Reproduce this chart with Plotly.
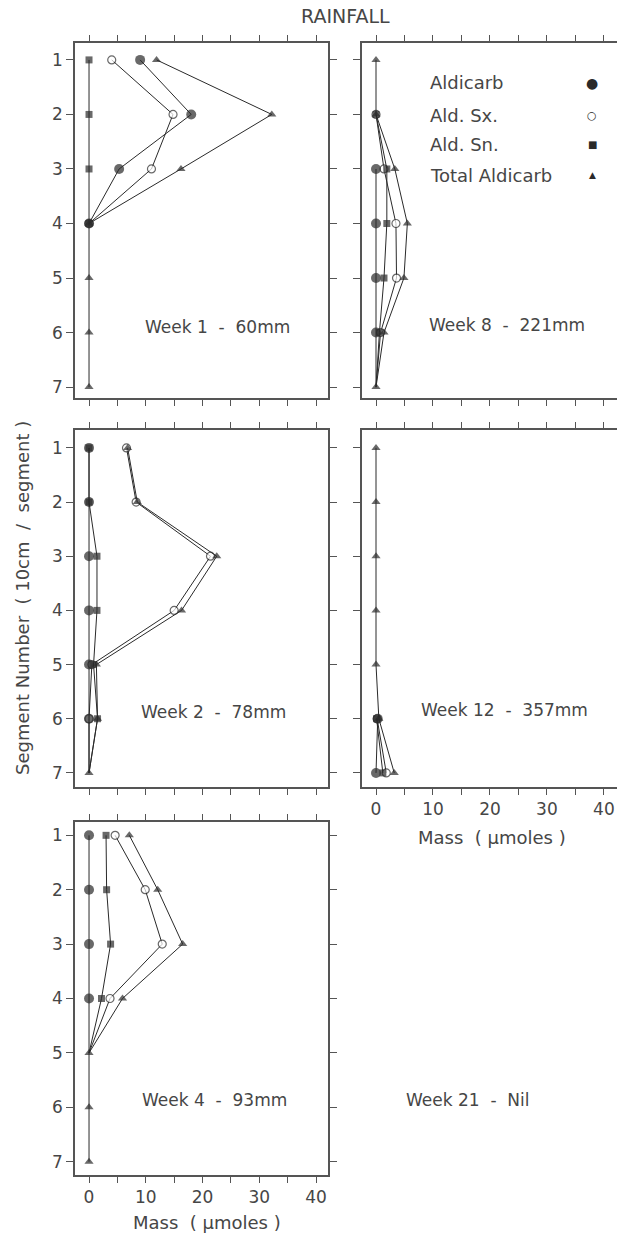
import plotly.graph_objects as go

W, H = 617, 1238

# ---------------- data ----------------
segments = [1, 2, 3, 4, 5, 6, 7]
series_names = ["Aldicarb", "Ald. Sx.", "Ald. Sn.", "Total Aldicarb"]
x_tick_values = [0, 5, 10, 15, 20, 25, 30, 35, 40]
x_tick_labels = ["0", "", "10", "", "20", "", "30", "", "40"]
y_tick_labels = ["1", "2", "3", "4", "5", "6", "7"]

# Week 1 - 60mm
w1_aldicarb = [9.0, 18.0, 5.3, 0.0, None, None, None]
w1_sx = [4.0, 14.8, 11.0, 0.0, None, None, None]
w1_sn = [0.0, 0.0, 0.0, 0.0, None, None, None]
w1_total = [11.9, 32.2, 16.2, 0.0, 0.0, 0.0, 0.0]

# Week 8 - 221mm
w8_aldicarb = [None, None, 0.0, 0.0, 0.0, 0.0, 0.0]
w8_sx = [None, 0.0, 1.4, 3.5, 3.6, 0.8, 0.0]
w8_sn = [None, 0.0, 1.9, 1.9, 1.4, 0.6, 0.0]
w8_total = [0.0, 0.0, 3.3, 5.5, 4.9, 1.4, 0.0]

# Week 2 - 78mm
w2_aldicarb = [0.0, 0.0, 0.0, 0.0, 0.0, 0.0, 0.0]
w2_sx = [6.6, 8.3, 21.4, 15.0, 0.5, 0.0, 0.0]
w2_sn = [0.0, 0.0, 1.4, 1.4, 0.8, 1.5, 0.0]
w2_total = [6.8, 8.5, 22.5, 16.3, 1.3, 1.5, 0.0]

# Week 12 - 357mm
w12_aldicarb = [None, None, None, None, None, 0.3, 0.0]
w12_sx = [None, None, None, None, None, 0.2, 1.8]
w12_sn = [None, None, None, None, None, 0.1, 1.2]
w12_total = [0.0, 0.0, 0.0, 0.0, 0.0, 0.5, 3.2]

# Week 4 - 93mm
w4_aldicarb = [0.0, 0.0, 0.0, 0.0, 0.0, None, None]
w4_sx = [4.6, 9.9, 12.9, 3.7, 0.0, None, None]
w4_sn = [3.0, 3.1, 3.8, 2.2, 0.0, None, None]
w4_total = [7.1, 12.1, 16.5, 5.9, 0.0, 0.0, 0.0]

# ---------------- layout helpers ----------------
def xdom(l, r):
    return [l / W, min(r / W, 1.0)]

def ydom(t, b):
    return [1 - b / H, 1 - t / H]

COLS = {"L": (75, 328), "R": (362, 617)}
ROWS = {1: (43, 398), 2: (430, 787), 3: (822, 1175)}
XRANGE = {"L": [-2.47, 42.1], "R": [-2.46, 42.3]}
YRANGE = {1: [7.2, 0.69], 2: [7.26, 0.67], 3: [7.245, 0.755]}

INK = "#2a2a2a"
TXT = "#464646"
FONT = "DejaVu Sans"
NB = "\u00a0"

panels = [
    dict(n=1, col="L", row=1, label=f"Week 1 {NB}-{NB} 60mm", tail=None,
         data={"Total Aldicarb": w1_total, "Ald. Sx.": w1_sx, "Ald. Sn.": w1_sn, "Aldicarb": w1_aldicarb},
         xlabels=False),
    dict(n=2, col="R", row=1, label=f"Week 8 {NB}-{NB} 221mm", tail=7,
         data={"Total Aldicarb": w8_total, "Ald. Sx.": w8_sx, "Ald. Sn.": w8_sn, "Aldicarb": w8_aldicarb},
         xlabels=False),
    dict(n=3, col="L", row=2, label=f"Week 2 {NB}-{NB} 78mm", tail=7,
         data={"Total Aldicarb": w2_total, "Ald. Sx.": w2_sx, "Ald. Sn.": w2_sn, "Aldicarb": w2_aldicarb},
         xlabels=False),
    dict(n=4, col="R", row=2, label=f"Week 12 {NB}-{NB} 357mm", tail=None,
         data={"Total Aldicarb": w12_total, "Ald. Sx.": w12_sx, "Ald. Sn.": w12_sn, "Aldicarb": w12_aldicarb},
         xlabels=True),
    dict(n=5, col="L", row=3, label=f"Week 4 {NB}-{NB} 93mm", tail=5,
         data={"Total Aldicarb": w4_total, "Ald. Sx.": w4_sx, "Ald. Sn.": w4_sn, "Aldicarb": w4_aldicarb},
         xlabels=True),
]
label_pos = {1: (217, 327), 2: (507, 325), 3: (213, 712), 4: (504, 710), 5: (214, 1100)}

styles = {
    "Total Aldicarb": dict(symbol="triangle-up", size=8, color=INK, line=dict(width=0)),
    "Ald. Sx.": dict(symbol="circle", size=8, color="white", line=dict(width=1.2, color=INK)),
    "Ald. Sn.": dict(symbol="square", size=7, color=INK, line=dict(width=0)),
    "Aldicarb": dict(symbol="circle", size=10, color=INK, line=dict(width=0)),
}
draw_order = ["Ald. Sx.", "Total Aldicarb", "Ald. Sn.", "Aldicarb"]

fig = go.Figure()
layout = {}
annotations = []


def note(text, px, py, size=17, color=TXT, xanchor="center", angle=0):
    return dict(text=text, x=px / W, y=1 - py / H, xref="paper", yref="paper",
                xanchor=xanchor, yanchor="middle", showarrow=False, textangle=angle,
                font=dict(family=FONT, size=size, color=color))


for p in panels:
    n = p["n"]
    xa = "x" if n == 1 else f"x{n}"
    ya = "y" if n == 1 else f"y{n}"
    for name in draw_order:
        vals = p["data"][name]
        st = styles[name]
        sizes = [0 if (p["tail"] is not None and s == p["tail"] and name != "Total Aldicarb") else st["size"]
                 for s in segments]
        fig.add_trace(go.Scatter(
            x=vals, y=segments, mode="lines+markers", name=name, showlegend=False,
            xaxis=xa, yaxis=ya,
            line=dict(color=INK, width=1),
            marker=dict(symbol=st["symbol"], size=sizes, color=st["color"], line=st["line"]),
        ))
    common = dict(showline=True, linecolor="#555", linewidth=1.5, ticks="outside", ticklen=6,
                  tickwidth=1.2, tickcolor="#555", showgrid=False, zeroline=False,
                  automargin=False, fixedrange=True,
                  tickfont=dict(family=FONT, size=17, color=TXT))
    layout["xaxis" if n == 1 else f"xaxis{n}"] = dict(
        common, domain=xdom(*COLS[p["col"]]), range=XRANGE[p["col"]], anchor=ya,
        tickmode="array", tickvals=x_tick_values, ticktext=x_tick_labels,
        showticklabels=p["xlabels"], mirror="ticks")
    layout["yaxis" if n == 1 else f"yaxis{n}"] = dict(
        common, domain=ydom(*ROWS[p["row"]]), range=YRANGE[p["row"]], anchor=xa,
        tickmode="array", tickvals=segments, ticktext=y_tick_labels,
        showticklabels=(p["col"] == "L"), mirror=("ticks" if p["col"] == "L" else False),
        ticklen=7)
    lx, ly = label_pos[n]
    annotations.append(note(p["label"], lx, ly))

# Week 21 - Nil (no data)
annotations.append(note(f"Week 21 {NB}-{NB} Nil", 468, 1100))

# Title
annotations.append(note("RAINFALL", 345, 16, size=19))

# Axis titles
annotations.append(note(f"Segment Number {NB}({NB}10cm {NB}/{NB} segment{NB})", 22, 598, size=18, angle=-90))
for (mx, my) in [(492, 837), (207, 1222)]:
    annotations.append(note(f"Mass {NB}({NB}µmoles{NB})", mx, my, size=18))

# Legend (text left, symbol right)
legend_rows = [(83, "●", 14), (115, "○", 11), (145, "■", 10), (175, "▲", 9)]
for name, (ly, sym, ss) in zip(series_names, legend_rows):
    annotations.append(note(name, 428, ly, size=18, xanchor="left"))
    annotations.append(note(sym, 592, ly, size=ss, color=INK))

fig.update_layout(
    template="none", width=W, height=H, margin=dict(l=0, r=0, t=0, b=0),
    paper_bgcolor="white", plot_bgcolor="white", showlegend=False,
    annotations=annotations, **layout)

fig.write_html("out.html", config={"displayModeBar": False},
               post_script="document.body.style.margin='0';document.body.style.padding='0';"
                           "document.body.style.overflow='hidden';")
